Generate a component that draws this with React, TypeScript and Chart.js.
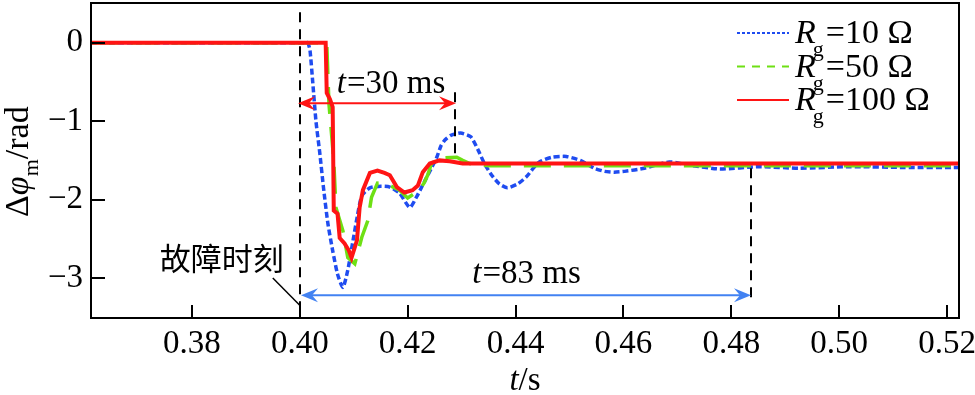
import React, { useEffect, useRef } from "react";
import { Chart, registerables } from "chart.js";

Chart.register(...registerables);

const SERIF = '"Liberation Serif", "Times New Roman", serif';
const CJK = '"Noto Sans CJK SC", sans-serif';

// axis ranges and ticks
const X_MIN = 0.3613;
const X_MAX = 0.5222;
const Y_MIN = -3.51;
const Y_MAX = 0.507;
const X_STEP = 0.02;
const Y_STEP = 1;

// series labels
const seriesValues = ["10", "50", "100"];

// Rg = 10 Ω (blue dotted)
const t10 = [0.3613, 0.4011, 0.4015, 0.4019, 0.4024, 0.4030, 0.4037, 0.4044, 0.4052, 0.4061, 0.4070, 0.4080, 0.4089, 0.4098, 0.4107, 0.4115, 0.4130, 0.4150, 0.4167, 0.4185, 0.4204, 0.4217, 0.4226, 0.4235, 0.4244, 0.4254, 0.4262, 0.4269, 0.4280, 0.4298, 0.4317, 0.4330, 0.4343, 0.4357, 0.4370, 0.4385, 0.4404, 0.4420, 0.4433, 0.4444, 0.4467, 0.4494, 0.4520, 0.4546, 0.4565, 0.4583, 0.4602, 0.4639, 0.4685, 0.4722, 0.4778, 0.4852, 0.4926, 0.5019, 0.5120, 0.5222];
const v10 = [0, 0, 0, -0.1, -0.5, -1.0, -1.4, -1.85, -2.3, -2.65, -2.95, -3.12, -2.9, -2.55, -2.2, -1.95, -1.85, -1.83, -1.84, -1.92, -2.1, -1.96, -1.84, -1.72, -1.6, -1.46, -1.31, -1.24, -1.18, -1.15, -1.2, -1.36, -1.55, -1.7, -1.8, -1.85, -1.8, -1.71, -1.6, -1.52, -1.46, -1.45, -1.5, -1.6, -1.64, -1.65, -1.64, -1.6, -1.52, -1.56, -1.61, -1.58, -1.6, -1.58, -1.59, -1.59];

// Rg = 50 Ω (green dashed)
const t50 = [0.3613, 0.4050, 0.4054, 0.4063, 0.4067, 0.4080, 0.4089, 0.4102, 0.4115, 0.4126, 0.4133, 0.4144, 0.4167, 0.4185, 0.4200, 0.4222, 0.4231, 0.4237, 0.4244, 0.4259, 0.4291, 0.4302, 0.4315, 0.4352, 0.5222];
const v50 = [0, 0, -0.77, -1.5, -2.1, -2.4, -2.74, -2.82, -2.48, -2.27, -1.97, -1.79, -1.82, -1.88, -1.98, -1.88, -1.78, -1.69, -1.54, -1.47, -1.46, -1.5, -1.54, -1.57, -1.57];

// Rg = 100 Ω (red solid)
const t100 = [0.3613, 0.4048, 0.4050, 0.4056, 0.4061, 0.4063, 0.4070, 0.4074, 0.4083, 0.4091, 0.4096, 0.4106, 0.4111, 0.4117, 0.4130, 0.4144, 0.4157, 0.4167, 0.4180, 0.4194, 0.4209, 0.4219, 0.4228, 0.4241, 0.4259, 0.4278, 0.4302, 0.5222];
const v100 = [0, 0, -0.64, -0.72, -0.82, -2.14, -2.18, -2.49, -2.56, -2.65, -2.74, -2.52, -2.10, -1.88, -1.66, -1.63, -1.66, -1.69, -1.84, -1.91, -1.88, -1.82, -1.65, -1.54, -1.50, -1.51, -1.54, -1.54];

// annotation anchors (data space)
const FAULT_T = 0.40;
const T30_END = 0.4288;
const T83_END = 0.4837;

const BLUE = "#1f4cf0";
const GREEN = "#6ee014";
const RED = "#ff1414";
const ARROW_BLUE = "#4282f2";

function toPts(t: number[], v: number[]) {
  return t.map((x, i) => ({ x, y: v[i] }));
}

function arrowHead(ctx: CanvasRenderingContext2D, tipX: number, y: number, dir: number, color: string) {
  const L = 17, W = 7, N = 11;
  ctx.fillStyle = color;
  ctx.beginPath();
  ctx.moveTo(tipX, y);
  ctx.lineTo(tipX - dir * L, y - W);
  ctx.lineTo(tipX - dir * N, y);
  ctx.lineTo(tipX - dir * L, y + W);
  ctx.closePath();
  ctx.fill();
}

function dblArrow(ctx: CanvasRenderingContext2D, x1: number, x2: number, y: number, color: string) {
  ctx.save();
  ctx.setLineDash([]);
  ctx.strokeStyle = color;
  ctx.lineWidth = 2;
  ctx.beginPath();
  ctx.moveTo(x1 + 8, y);
  ctx.lineTo(x2 - 8, y);
  ctx.stroke();
  arrowHead(ctx, x1, y, -1, color);
  arrowHead(ctx, x2, y, 1, color);
  ctx.restore();
}

function italicLabel(ctx: CanvasRenderingContext2D, x: number, baseline: number, rest: string, size: number) {
  ctx.textAlign = "left";
  ctx.textBaseline = "alphabetic";
  ctx.font = `italic ${size}px ${SERIF}`;
  ctx.fillText("t", x, baseline);
  const w = ctx.measureText("t").width;
  ctx.font = `${size}px ${SERIF}`;
  ctx.fillText(rest, x + w + 1, baseline);
  const w2 = ctx.measureText(rest).width;
  return w + 1 + w2;
}

const decorPlugin = {
  id: "decor",
  afterDatasetsDraw(chart: any) {
    const { ctx, chartArea: a, scales } = chart;
    const xs = scales.x, ys = scales.y;
    ctx.save();
    // dashed guide lines
    ctx.strokeStyle = "#000";
    ctx.lineWidth = 2;
    ctx.setLineDash([10, 7]);
    const xf = Math.round(xs.getPixelForValue(FAULT_T));
    ctx.beginPath();
    ctx.moveTo(xf, ys.getPixelForValue(0.39));
    ctx.lineTo(xf, a.bottom);
    ctx.stroke();
    const x30 = Math.round(xs.getPixelForValue(T30_END));
    ctx.beginPath();
    ctx.moveTo(x30, ys.getPixelForValue(-0.63));
    ctx.lineTo(x30, ys.getPixelForValue(-1.46));
    ctx.stroke();
    const x83 = Math.round(xs.getPixelForValue(T83_END));
    ctx.beginPath();
    ctx.moveTo(x83, ys.getPixelForValue(-1.6));
    ctx.lineTo(x83, ys.getPixelForValue(-3.25));
    ctx.stroke();
    ctx.setLineDash([]);

    // arrows
    dblArrow(ctx, xf - 2, x30 + 1, ys.getPixelForValue(-0.77), RED);
    dblArrow(ctx, xf + 1, x83, ys.getPixelForValue(-3.22), ARROW_BLUE);

    // texts
    ctx.fillStyle = "#000";
    italicLabel(ctx, xs.getPixelForValue(0.40685), ys.getPixelForValue(-0.642), "=30 ms", 33);
    // centered t=83 ms
    ctx.font = `italic 33px ${SERIF}`;
    const wt = ctx.measureText("t").width + 1;
    ctx.font = `33px ${SERIF}`;
    const wr = ctx.measureText("=83 ms").width;
    const cx = xs.getPixelForValue(0.44204);
    italicLabel(ctx, cx - (wt + wr) / 2, ys.getPixelForValue(-3.07), "=83 ms", 33);

    // fault label
    ctx.font = `31px ${CJK}`;
    ctx.textAlign = "center";
    ctx.textBaseline = "middle";
    ctx.fillText("故障时刻", xs.getPixelForValue(0.38556), ys.getPixelForValue(-2.75));
    ctx.strokeStyle = "#000";
    ctx.lineWidth = 1.5;
    ctx.beginPath();
    ctx.moveTo(xs.getPixelForValue(0.3950), ys.getPixelForValue(-3.0));
    ctx.lineTo(xf, ys.getPixelForValue(-3.35));
    ctx.stroke();
    ctx.restore();
  },
  afterDraw(chart: any) {
    const { ctx, chartArea: a, scales } = chart;
    const xs = scales.x, ys = scales.y;
    ctx.save();
    ctx.setLineDash([]);
    ctx.strokeStyle = "#000";
    ctx.lineWidth = 2;
    // inward ticks
    ctx.beginPath();
    for (const t of xs.ticks) {
      const px = Math.round(xs.getPixelForValue(t.value));
      ctx.moveTo(px, a.bottom);
      ctx.lineTo(px, a.bottom - 13);
    }
    for (const t of ys.ticks) {
      const py = Math.round(ys.getPixelForValue(t.value));
      ctx.moveTo(a.left, py);
      ctx.lineTo(a.left + 14, py);
    }
    ctx.stroke();
    // frame
    ctx.strokeRect(a.left, a.top, a.right - a.left, a.bottom - a.top);

    // legend
    const lx1 = a.right - 222, lx2 = a.right - 170, tx = a.right - 164;
    const rows = [
      { color: BLUE, dash: [3, 2], val: seriesValues[0] },
      { color: GREEN, dash: [8, 7], val: seriesValues[1] },
      { color: RED, dash: [], val: seriesValues[2] },
    ];
    rows.forEach((r, i) => {
      const base = a.top + 40 + i * 33.5;
      ctx.strokeStyle = r.color;
      ctx.lineWidth = 2;
      ctx.setLineDash(r.dash);
      ctx.beginPath();
      ctx.moveTo(lx1, base - 10);
      ctx.lineTo(lx2, base - 10);
      ctx.stroke();
      ctx.setLineDash([]);
      ctx.fillStyle = "#000";
      ctx.textAlign = "left";
      ctx.textBaseline = "alphabetic";
      ctx.font = `italic 34px ${SERIF}`;
      ctx.fillText("R", tx, base);
      const rw = ctx.measureText("R").width;
      ctx.font = `22px ${SERIF}`;
      ctx.fillText("g", tx + rw - 3, base + 13);
      const gw = ctx.measureText("g").width;
      ctx.font = `34px ${SERIF}`;
      ctx.fillText(`=${r.val} Ω`, tx + rw - 3 + gw + 2, base);
    });

    // x title: t/s
    ctx.fillStyle = "#000";
    ctx.font = `italic 33px ${SERIF}`;
    const tw = ctx.measureText("t").width;
    ctx.font = `33px ${SERIF}`;
    const sw = ctx.measureText("/s").width;
    const cx = (a.left + a.right) / 2;
    const x0 = cx - (tw + sw) / 2;
    ctx.textAlign = "left";
    ctx.textBaseline = "alphabetic";
    ctx.font = `italic 33px ${SERIF}`;
    ctx.fillText("t", x0, 390);
    ctx.font = `33px ${SERIF}`;
    ctx.fillText("/s", x0 + tw, 390);

    // y title: Δφm/rad rotated
    ctx.save();
    ctx.translate(28, 217);
    ctx.rotate(-Math.PI / 2);
    let px = 0;
    ctx.font = `34px ${SERIF}`;
    ctx.fillText("Δ", px, 0);
    px += ctx.measureText("Δ").width;
    ctx.font = `italic 34px ${SERIF}`;
    ctx.fillText("φ", px, 0);
    px += ctx.measureText("φ").width;
    ctx.font = `22px ${SERIF}`;
    ctx.fillText("m", px, 10);
    px += ctx.measureText("m").width;
    ctx.font = `34px ${SERIF}`;
    ctx.fillText("/rad", px, 0);
    ctx.restore();

    ctx.restore();
  },
};

export default function App() {
  const ref = useRef<HTMLCanvasElement>(null);
  useEffect(() => {
    const chart = new Chart(ref.current as HTMLCanvasElement, {
      type: "line",
      data: {
        datasets: [
          {
            label: "Rg=100 Ω",
            data: toPts(t100, v100),
            borderColor: RED,
            borderWidth: 4,
            pointRadius: 0,
            tension: 0,
            fill: false,
            order: 1,
          },
          {
            label: "Rg=50 Ω",
            data: toPts(t50, v50),
            borderColor: GREEN,
            borderWidth: 3.5,
            borderDash: [27, 13],
            pointRadius: 0,
            tension: 0,
            fill: false,
            order: 2,
          },
          {
            label: "Rg=10 Ω",
            data: toPts(t10, v10),
            borderColor: BLUE,
            borderWidth: 3.5,
            borderDash: [6, 3],
            pointRadius: 0,
            tension: 0.2,
            fill: false,
            order: 3,
          },
        ],
      },
      options: {
        responsive: false,
        animation: false,
        devicePixelRatio: 1,
        layout: { padding: { left: 0, top: 3, right: 16, bottom: 0 } },
        plugins: { legend: { display: false }, tooltip: { enabled: false }, title: { display: false } },
        scales: {
          x: {
            type: "linear",
            min: X_MIN,
            max: X_MAX,
            border: { display: false },
            grid: { display: false, drawTicks: false },
            ticks: {
              stepSize: X_STEP,
              includeBounds: false,
              autoSkip: false,
              maxRotation: 0,
              padding: 7,
              color: "#000",
              font: { family: SERIF, size: 33 },
              callback: (v: any) => Number(v).toFixed(2),
            },
            afterFit: (s: any) => {
              s.height = 77;
              s.paddingLeft = 0;
              s.paddingRight = 0;
            },
          },
          y: {
            type: "linear",
            min: Y_MIN,
            max: Y_MAX,
            border: { display: false },
            grid: { display: false, drawTicks: false },
            ticks: {
              stepSize: Y_STEP,
              includeBounds: false,
              padding: 8,
              color: "#000",
              font: { family: SERIF, size: 33 },
              callback: (v: any) => (Number(v) < 0 ? "\u2212" + Math.abs(Number(v)) : String(v)),
            },
            afterFit: (s: any) => {
              s.width = 91;
              s.paddingTop = 0;
              s.paddingBottom = 0;
            },
          },
        },
      },
      plugins: [decorPlugin],
    });
    return () => chart.destroy();
  }, []);
  return (
    <div style={{ position: "absolute", left: 0, top: 0, width: 975, height: 395, background: "#fff" }}>
      <canvas ref={ref} width={975} height={395} style={{ display: "block" }} />
    </div>
  );
}
